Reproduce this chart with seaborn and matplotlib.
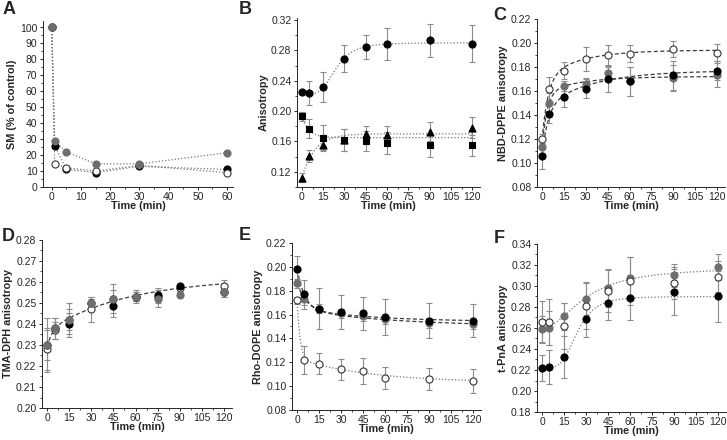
import numpy as np
import pandas as pd
import matplotlib
matplotlib.use("Agg")
import matplotlib.pyplot as plt
from matplotlib.ticker import AutoMinorLocator, MultipleLocator
import seaborn as sns

# ---- data ----
# A: SM (% of control)
time_a = [0, 1, 5, 15, 30, 60]
sm_black = [100, 26, 11, 9, 13, 11]
sm_open = [100, 14.5, 12, 10, 13.5, 9]
sm_gray = [100, 29, 22, 14.5, 14.5, 21.5]

time_8 = [0, 5, 15, 30, 45, 60, 90, 120]
time_9 = [0, 5, 15, 30, 45, 60, 75, 90, 120]

# B: anisotropy of three probes
b_circle = [0.225, 0.224, 0.232, 0.269, 0.284, 0.288, 0.293, 0.289]
b_circle_err = [0.002, 0.016, 0.020, 0.018, 0.016, 0.021, 0.022, 0.024]
b_square = [0.193, 0.177, 0.165, 0.162, 0.161, 0.158, 0.155, 0.155]
b_square_err = [0.006, 0.012, 0.017, 0.014, 0.013, 0.014, 0.015, 0.014]
b_triangle = [0.112, 0.141, 0.155, 0.162, 0.170, 0.169, 0.173, 0.178]
b_triangle_err = [0.006, 0.008, 0.006, 0.014, 0.011, 0.011, 0.013, 0.014]

# C: NBD-DPPE
c_open = [0.120, 0.162, 0.177, 0.187, 0.190, 0.191, 0.195, 0.192]
c_open_err = [0.004, 0.010, 0.007, 0.010, 0.008, 0.007, 0.007, 0.007]
c_gray = [0.113, 0.150, 0.164, 0.166, 0.175, 0.168, 0.171, 0.173]
c_gray_err = [0.005, 0.008, 0.004, 0.005, 0.005, 0.012, 0.011, 0.010]
c_black = [0.106, 0.141, 0.155, 0.162, 0.170, 0.168, 0.173, 0.177]
c_black_err = [0.011, 0.008, 0.008, 0.008, 0.011, 0.012, 0.012, 0.008]

# D: TMA-DPH
d_open = [0.228, 0.237, 0.242, 0.247, 0.252, 0.253, 0.253, 0.257, 0.258]
d_open_err = [0.010, 0.004, 0.005, 0.006, 0.004, 0.003, 0.003, 0.002, 0.003]
d_black = [0.230, 0.238, 0.240, 0.250, 0.2485, 0.253, 0.254, 0.258, 0.255]
d_black_err = [0.013, 0.005, 0.005, 0.003, 0.005, 0.002, 0.003, 0.001, 0.002]
d_gray = [0.230, 0.238, 0.242, 0.250, 0.252, 0.253, 0.252, 0.254, 0.255]
d_gray_err = [0.007, 0.005, 0.008, 0.002, 0.007, 0.002, 0.004, 0.001, 0.002]

# E: Rho-DOPE
e_black = [0.198, 0.177, 0.165, 0.162, 0.161, 0.158, 0.155, 0.155]
e_black_err = [0.011, 0.012, 0.017, 0.014, 0.014, 0.015, 0.015, 0.014]
e_gray = [0.186, 0.173, 0.165, 0.161, 0.159, 0.156, 0.153, 0.152]
e_gray_err = [0.004, 0.005, 0.004, 0.004, 0.004, 0.004, 0.004, 0.004]
e_open = [0.172, 0.122, 0.119, 0.114, 0.113, 0.107, 0.106, 0.104]
e_open_err = [0.003, 0.012, 0.009, 0.009, 0.011, 0.009, 0.009, 0.010]

# F: t-PnA
f_gray = [0.259, 0.260, 0.271, 0.288, 0.298, 0.308, 0.310, 0.318]
f_gray_err = [0.012, 0.016, 0.013, 0.016, 0.018, 0.020, 0.011, 0.012]
f_open = [0.266, 0.266, 0.262, 0.281, 0.295, 0.305, 0.303, 0.309]
f_open_err = [0.020, 0.022, 0.022, 0.022, 0.020, 0.023, 0.015, 0.015]
f_black = [0.222, 0.223, 0.232, 0.269, 0.284, 0.289, 0.294, 0.290]
f_black_err = [0.012, 0.016, 0.020, 0.018, 0.016, 0.021, 0.022, 0.024]

# fitted curves (parameters estimated from the drawn fit lines)
# hill: bottom, top, t50, n ; exp2: plateau, a1, k1, a2, k2
fit_b_circle = ("hill", [0.222, 0.290, 24, 4])
fit_b_square = ("exp2", [0.165, 0.028, 0.2, 0.0, 0.0])
fit_b_triangle = ("exp2", [0.170, -0.058, 0.11, 0.0, 0.0])
fit_c_open = ("exp2", [0.194, -0.050, 0.25, -0.024, 0.04])
fit_c_gray = ("exp2", [0.172, -0.045, 0.3, -0.014, 0.04])
fit_c_black = ("exp2", [0.177, -0.040, 0.25, -0.031, 0.03])
fit_d = ("exp2", [0.262, -0.008, 0.3, -0.025, 0.018])
fit_e_black = ("exp2", [0.154, 0.033, 0.2, 0.011, 0.02])
fit_e_gray = ("exp2", [0.150, 0.022, 0.15, 0.014, 0.015])
fit_e_open = ("exp2", [0.103, 0.049, 0.5, 0.020, 0.02])
fit_f_upper = ("hill", [0.260, 0.318, 30, 2])
fit_f_black = ("hill", [0.222, 0.290, 24, 4])

GRAY = "#6e6e6e"
ERR = "#8c8c8c"
LINE = "#777777"
DASH = "#3c3c3c"
DOTTED = (0, (1, 1.6))
DASHED = (0, (3.2, 2))

sns.set_style("ticks")
plt.rcParams["font.family"] = ["Liberation Sans", "DejaVu Sans"]
plt.rcParams["font.size"] = 7.5


def fit_values(fit, t):
    kind, p = fit
    if kind == "hill":
        bottom, top, t50, n = p
        return bottom + (top - bottom) * t**n / (t50**n + t**n)
    plateau, a1, k1, a2, k2 = p
    return plateau + a1 * np.exp(-k1 * t) + a2 * np.exp(-k2 * t)


def draw_fit(ax, fit, style, color, lw=0.9):
    t = np.linspace(0, 120, 241)
    df = pd.DataFrame({"t": t, "y": fit_values(fit, t)})
    sns.lineplot(data=df, x="t", y="y", ax=ax, color=color, linestyle=style,
                 linewidth=lw, zorder=2)


def draw_points(ax, x, y, err, kind, marker="o"):
    if err is not None:
        ax.errorbar(x, y, yerr=err, fmt="none", ecolor=ERR, elinewidth=0.8,
                    capsize=2, capthick=0.8, zorder=3)
    if kind == "black":
        fc, ec = "black", "black"
    elif kind == "gray":
        fc, ec = GRAY, GRAY
    else:
        fc, ec = "white", "#333333"
    size = {"o": 26, "s": 20, "^": 26}[marker]
    df = pd.DataFrame({"x": x, "y": y})
    sns.scatterplot(data=df, x="x", y="y", ax=ax, marker=marker, s=size,
                    color=fc, edgecolor=ec, linewidth=0.8, zorder=4)


def style_axis(ax, ylim, ymajor, yfmt, ylabel, xlim=(-3.5, 125.5), xmajor=15):
    ax.set_xlim(*xlim)
    ax.set_ylim(*ylim)
    ax.xaxis.set_major_locator(MultipleLocator(xmajor))
    ax.yaxis.set_major_locator(MultipleLocator(ymajor))
    ax.xaxis.set_minor_locator(AutoMinorLocator(2))
    ax.yaxis.set_minor_locator(AutoMinorLocator(2))
    ax.yaxis.set_major_formatter(plt.FormatStrFormatter(yfmt))
    ax.tick_params(which="major", length=2.5, width=0.7, labelsize=7.5, pad=1.5)
    ax.tick_params(axis="x", which="major", pad=1)
    ax.tick_params(which="minor", length=1.6, width=0.6)
    for s in ["left", "bottom"]:
        ax.spines[s].set_linewidth(0.7)
    sns.despine(ax=ax)
    ax.set_xlabel("Time (min)", fontsize=7.8, fontweight="bold", labelpad=-0.5)
    ax.set_ylabel(ylabel, fontsize=7.8, fontweight="bold", labelpad=2)


fig = plt.figure(figsize=(7.27, 4.40), dpi=100)
ax_a = fig.add_axes([0.0591, 0.575, 0.2613, 0.377])
ax_b = fig.add_axes([0.4085, 0.575, 0.2517, 0.383])
ax_c = fig.add_axes([0.7387, 0.575, 0.2586, 0.382])
ax_d = fig.add_axes([0.0578, 0.0727, 0.2613, 0.382])
ax_e = fig.add_axes([0.4017, 0.068, 0.2600, 0.380])
ax_f = fig.add_axes([0.7387, 0.0636, 0.2600, 0.382])

# A
for ys in [sm_black, sm_open, sm_gray]:
    df = pd.DataFrame({"t": time_a, "y": ys})
    sns.lineplot(data=df, x="t", y="y", ax=ax_a, color=LINE, linestyle=DOTTED,
                 linewidth=0.9, zorder=2)
for ys, kind in [(sm_black, "black"), (sm_open, "open"), (sm_gray, "gray")]:
    draw_points(ax_a, time_a, ys, None, kind)
style_axis(ax_a, (0, 104), 10, "%d", "SM (% of control)", xlim=(-3, 62), xmajor=10)

# B
draw_fit(ax_b, fit_b_circle, DOTTED, LINE)
draw_fit(ax_b, fit_b_square, DOTTED, LINE)
draw_fit(ax_b, fit_b_triangle, DOTTED, LINE)
draw_points(ax_b, time_8, b_circle, b_circle_err, "black", "o")
draw_points(ax_b, time_8, b_square, b_square_err, "black", "s")
draw_points(ax_b, time_8, b_triangle, b_triangle_err, "black", "^")
style_axis(ax_b, (0.10, 0.322), 0.04, "%.2f", "Anisotropy")

# C
draw_fit(ax_c, fit_c_open, DASHED, DASH)
draw_fit(ax_c, fit_c_gray, DASHED, DASH)
draw_fit(ax_c, fit_c_black, DASHED, DASH)
draw_points(ax_c, time_8, c_gray, c_gray_err, "gray")
draw_points(ax_c, time_8, c_black, c_black_err, "black")
draw_points(ax_c, time_8, c_open, c_open_err, "open")
style_axis(ax_c, (0.08, 0.22), 0.02, "%.2f", "NBD-DPPE anisotropy")

# D
draw_fit(ax_d, fit_d, DASHED, DASH)
draw_points(ax_d, time_9, d_open, d_open_err, "open")
draw_points(ax_d, time_9, d_black, d_black_err, "black")
draw_points(ax_d, time_9, d_gray, d_gray_err, "gray")
style_axis(ax_d, (0.20, 0.28), 0.01, "%.2f", "TMA-DPH anisotropy")

# E
draw_fit(ax_e, fit_e_black, DASHED, DASH)
draw_fit(ax_e, fit_e_gray, DASHED, DASH)
draw_fit(ax_e, fit_e_open, DOTTED, LINE)
draw_points(ax_e, time_8, e_gray, e_gray_err, "gray")
draw_points(ax_e, time_8, e_black, e_black_err, "black")
draw_points(ax_e, time_8, e_open, e_open_err, "open")
style_axis(ax_e, (0.08, 0.22), 0.02, "%.2f", "Rho-DOPE anisotropy")

# F
draw_fit(ax_f, fit_f_upper, DOTTED, LINE)
draw_fit(ax_f, fit_f_black, DOTTED, LINE)
draw_points(ax_f, time_8, f_gray, f_gray_err, "gray")
draw_points(ax_f, time_8, f_open, f_open_err, "open")
draw_points(ax_f, time_8, f_black, f_black_err, "black")
style_axis(ax_f, (0.18, 0.34), 0.02, "%.2f", "t-PnA anisotropy")

# panel letters
for x, y, letter in [(0.003, 0.997, "A"), (0.329, 0.997, "B"), (0.679, 0.985, "C"),
                     (0.003, 0.482, "D"), (0.329, 0.485, "E"), (0.679, 0.478, "F")]:
    fig.text(x, y, letter, fontsize=13, fontweight="bold", ha="left", va="top")

fig.savefig("out.png", dpi=100)
